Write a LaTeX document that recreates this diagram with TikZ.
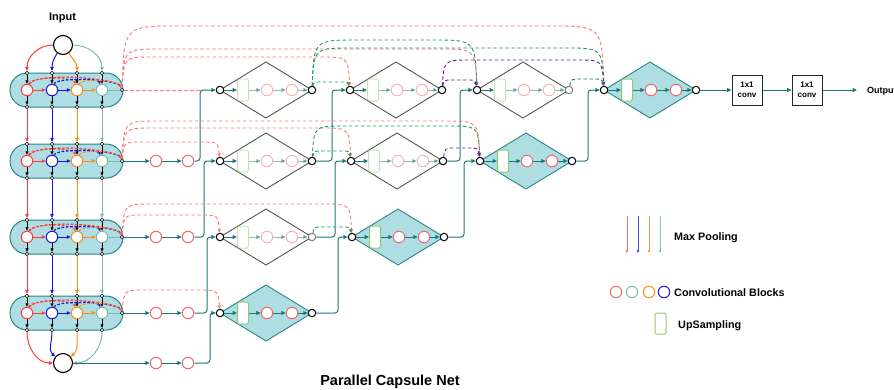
\documentclass[tikz,border=0pt]{standalone}
\usepackage{fontspec}
\setmainfont{Liberation Sans}
\usetikzlibrary{arrows.meta,calc}
\definecolor{tealc}{HTML}{1D7676}
\definecolor{pillfill}{HTML}{AEDDE3}
\definecolor{pillbord}{HTML}{2B8585}
\definecolor{cred}{HTML}{FF3B3B}
\definecolor{cblue}{HTML}{1717DD}
\definecolor{corange}{HTML}{FF8A14}
\definecolor{cteal}{HTML}{7BBAA8}
\definecolor{bred}{HTML}{EF6B6B}
\definecolor{upg}{HTML}{8DCB6F}
\definecolor{dred}{HTML}{FF7474}
\definecolor{dgreen}{HTML}{1F9C5C}
\definecolor{dpurple}{HTML}{6620B0}
\definecolor{dgrey}{HTML}{555555}
\definecolor{lred}{HTML}{FF6A6A}
\definecolor{lblue}{HTML}{4A4AF0}
\definecolor{lorange}{HTML}{FF9A40}
\definecolor{lteal}{HTML}{8CC4B4}
\tikzset{
  flow/.style={draw=tealc, line width=1pt, -{Triangle[length=4.5pt,width=4pt]}},
  conv/.style={circle, draw=#1, line width=1pt, fill=white, minimum size=11.5pt, inner sep=0pt},
  jn/.style={circle, draw=black, line width=1pt, fill=white, minimum size=7.5pt, inner sep=0pt},
  sj/.style={circle, draw=black, line width=0.6pt, fill=white, minimum size=3.6pt, inner sep=0pt},
  upbox/.style={draw=upg, line width=1pt, fill=white, rounded corners=1.5pt, minimum width=11pt, minimum height=22pt, inner sep=0pt},
  skip/.style={draw=#1, dash pattern=on 3.5pt off 2.5pt, line width=0.9pt, -{Stealth[length=4pt,width=3.5pt]}},
  skipn/.style={draw=#1, dash pattern=on 3.5pt off 2.5pt, line width=0.9pt},
  eskip/.style={draw=#1, dash pattern=on 2.5pt off 1.8pt, line width=0.9pt, -{Stealth[length=3.5pt,width=3pt]}},
  mp/.style={draw=#1, line width=1pt, -{Triangle[length=4pt,width=3.5pt]}},
  blk/.style={draw=black, line width=0.8pt, -{Triangle[length=3.5pt,width=3pt]}},
  big/.style={circle, draw=black, line width=1.1pt, fill=white, minimum size=19pt, inner sep=0pt},
  convbox/.style={draw=black!85, line width=1pt, minimum width=30pt, minimum height=30pt, inner sep=0pt, align=center, font=\bfseries\fontsize{8}{10}\selectfont},
  lbl/.style={font=\bfseries\fontsize{10.8}{12}\selectfont, anchor=base west, inner sep=0pt},
}
\newcommand{\encrow}[2]{%
  \path[fill=pillfill, draw=pillbord, line width=1pt, rounded corners=17pt] (10,#2-17) rectangle (123,#2+17);
  \foreach \i/\xx/\cc in {1/27/cred,2/52/cblue,3/77/corange,4/102/cteal}{%
    \node[sj] (r#1t\i) at (\xx,#2-17) {};
    \node[sj] (r#1b\i) at (\xx,#2+17) {};
    \node[conv=\cc] (r#1c\i) at (\xx,#2) {};
  }%
  \node[sj] (r#1E) at (122,#2) {};
  \foreach \i in {1,2,3,4}{%
    \draw[blk] (r#1t\i) -- (r#1c\i);
    \draw[blk] (r#1c\i) -- (r#1b\i);
  }%
  \draw[mp=cred] (r#1c1) -- (r#1c2);
  \draw[mp=cblue] (r#1c2) -- (r#1c3);
  \draw[mp=corange] (r#1c3) -- (r#1c4);
  \draw[cteal, line width=1pt] (r#1c4) -- (r#1E);
  \draw[eskip=cred] (r#1c1) .. controls +(4,-14) and +(-4,-13) .. (r#1c3);
  \draw[eskip=cred] (r#1c1) .. controls +(6,-16) and +(-4,-14) .. (r#1c4);
  \draw[eskip=cred] (r#1c1) .. controls +(8,-18) and +(-4,-12) .. (r#1E);
  \draw[eskip=cblue] (r#1c2) .. controls +(4,-12) and +(-4,-12) .. (r#1c4);
  \draw[eskip=cblue] (r#1c2) .. controls +(5,-14) and +(-4,-10) .. (r#1E);
  \draw[eskip=corange] (r#1c3) .. controls +(4,-12) and +(-4,-10) .. (r#1E);
}
\newcommand{\dblock}[5]{%
  \begin{scope}[shift={(#2,#3)}]
    \ifnum#4=1
      \path[draw=pillbord, fill=pillfill, line width=0.9pt] (0,0) -- (46,-28) -- (92,0) -- (46,28) -- cycle;
      \def\dop{1}%
    \else
      \path[draw=dgrey, line width=0.9pt] (0,0) -- (46,-28) -- (92,0) -- (46,28) -- cycle;
      \def\dop{0.5}%
    \fi
    \node[jn] (#1in) at (0,0) {};
    \node[jn, draw=#5] (#1out) at (92,0) {};
    \node[upbox, opacity=\dop] (#1u) at (23,0) {};
    \node[conv=bred, opacity=\dop] (#1a) at (47,0) {};
    \node[conv=bred, opacity=\dop] (#1b) at (72,0) {};
    \draw[flow] (#1in) -- (#1u);
    \begin{scope}[opacity=\dop]
      \draw[flow] (#1u) -- (#1a);
      \draw[flow] (#1a) -- (#1b);
      \draw[flow] (#1b) -- (#1out);
    \end{scope}
  \end{scope}
}
% skip arc: colour, source, target, x source, x target, peak y, corner size
\newcommand{\sarc}[7]{%
  \draw[skip=#1] (#2) .. controls (#4+2,#6) .. (#4+#7,#6) -- (#5-#7,#6) .. controls (#5-2,#6) .. (#3);
}
\begin{document}
\begin{tikzpicture}[x=1pt,y=-1pt]
\useasboundingbox (0,0) rectangle (894,389);
% ---------- encoder ----------
\node[font=\bfseries\fontsize{11}{13}\selectfont, anchor=base, inner sep=0pt] (inlbl) at (62.5,20) {Input};
\node[big] (inC) at (63,45) {};
\encrow{1}{90}
\encrow{2}{161}
\encrow{3}{237}
\encrow{4}{313}
\node[big] (botC) at (63,363) {};
\draw[mp=cred] (inC) to[out=180,in=90] (r1t1);
\draw[mp=cblue] (inC) to[out=235,in=90] (r1t2);
\draw[mp=corange] (inC) to[out=-55,in=90] (r1t3);
\draw[mp=cteal] (inC) to[out=0,in=90] (r1t4);
\foreach \a/\b in {1/2,2/3,3/4}{%
  \foreach \i/\cc in {1/cred,2/cblue,3/corange,4/cteal}{%
    \draw[mp=\cc] (r\a b\i) -- (r\b t\i);
  }%
}
\draw[mp=cred] (r4b1) to[out=-90,in=180] (botC);
\draw[mp=cblue] (r4b2) to[out=-90,in=140] (botC);
\draw[mp=corange] (r4b3) to[out=-90,in=40] (botC);
\draw[mp=cteal] (r4b4) to[out=-90,in=0] (botC);
% ---------- diamonds ----------
\dblock{A01}{220}{90}{0}{black}
\dblock{A11}{220}{161}{0}{black}
\dblock{A21}{220}{237}{0}{gray}
\dblock{A31}{220}{313}{1}{black}
\dblock{A02}{350}{90}{0}{black}
\dblock{A12}{351}{161}{0}{black}
\dblock{A22}{352}{237}{1}{black}
\dblock{A03}{477}{90}{0}{gray}
\dblock{A13}{480}{161}{1}{black}
\dblock{A04}{604}{90}{1}{black}
% ---------- bypass rows ----------
\foreach \r/\y in {2/161,3/237,4/313,5/363}{%
  \node[conv=bred] (p\r a) at (156,\y) {};
  \node[conv=bred] (p\r b) at (188,\y) {};
  \draw[flow] (p\r a) -- (p\r b);
}
\draw[flow] (r2E) -- (p2a);
\draw[flow] (r3E) -- (p3a);
\draw[flow] (r4E) -- (p4a);
\draw[flow] (botC) -- (p5a);
\draw[flow, rounded corners=3pt] (p2b) -- (200,161) -- (200,90) -- (A01in);
\draw[flow, rounded corners=3pt] (p3b) -- (204,237) -- (204,161) -- (A11in);
\draw[flow, rounded corners=3pt] (p4b) -- (207,313) -- (207,237) -- (A21in);
\draw[flow, rounded corners=3pt] (p5b) -- (210,363) -- (210,313) -- (A31in);
\draw[flow, rounded corners=3pt] (A11out) -- (332,161) -- (332,90) -- (A02in);
\draw[flow, rounded corners=3pt] (A21out) -- (335,237) -- (335,161) -- (A12in);
\draw[flow, rounded corners=3pt] (A31out) -- (338,313) -- (338,237) -- (A22in);
\draw[flow, rounded corners=3pt] (A12out) -- (460,161) -- (460,90) -- (A03in);
\draw[flow, rounded corners=3pt] (A22out) -- (464,237) -- (464,161) -- (A13in);
\draw[flow, rounded corners=3pt] (A13out) -- (588,161) -- (588,90) -- (A04in);
% ---------- output ----------
\node[convbox] (k1) at (747,90) {1x1\\conv};
\node[convbox] (k2) at (807,90) {1x1\\conv};
\coordinate (oend) at (857,90);
\draw[flow] (A04out) -- (k1);
\draw[flow] (k1) -- (k2);
\draw[flow] (k2) -- (oend);
\node[font=\bfseries\fontsize{9}{11}\selectfont, anchor=base west, inner sep=0pt] (outlbl) at (867,93) {Output};
% ---------- skip connections ----------
\coordinate (j1) at (200,90);
\draw[skipn=dred] (r1E) -- (j1);
\sarc{dred}{r1E}{A02in}{122}{350}{57}{30}
\sarc{dred}{r1E}{A03in}{122}{477}{49}{38}
\sarc{dred}{r1E}{A04in}{122}{604}{26}{55}
\sarc{dgreen}{A01out}{A02in}{312}{350}{82}{10}
\sarc{dgreen}{A01out}{A03in}{312}{477}{40}{45}
\sarc{dgreen}{A01out}{A04in}{312}{604}{48}{40}
\sarc{dpurple}{A02out}{A03in}{442}{477}{80}{10}
\sarc{dpurple}{A02out}{A04in}{442}{604}{60}{28}
\sarc{tealc}{A03out}{A04in}{569}{604}{79}{12}
\sarc{dred}{r2E}{A11in}{122}{220}{142}{18}
\sarc{dred}{r2E}{A12in}{122}{351}{128}{30}
\sarc{dred}{r2E}{A13in}{122}{480}{121}{36}
\sarc{dgreen}{A11out}{A12in}{312}{351}{151}{10}
\sarc{dgreen}{A11out}{A13in}{312}{480}{126}{32}
\sarc{dpurple}{A12out}{A13in}{443}{480}{148}{12}
\sarc{dred}{r3E}{A21in}{122}{220}{215}{20}
\sarc{dred}{r3E}{A22in}{122}{352}{204}{30}
\sarc{dgreen}{A21out}{A22in}{312}{352}{227}{10}
\sarc{dred}{r4E}{A31in}{122}{220}{290}{22}
% ---------- legend ----------
\foreach \i/\xx/\cc in {1/627/lred,2/638/lblue,3/649/lorange,4/660/lteal}{%
  \coordinate (lgs\i) at (\xx,216);
  \coordinate (lge\i) at (\xx,253);
  \draw[draw=\cc, line width=0.8pt, -{Triangle[length=3pt,width=2.6pt]}] (lgs\i) -- (lge\i);
}
\node[lbl] (lblmp) at (674,240) {Max Pooling};
\node[conv=bred] (lc1) at (616,292) {};
\node[conv=cteal] (lc2) at (632,292) {};
\node[conv=corange] (lc3) at (649,292) {};
\node[conv=cblue] (lc4) at (664,292) {};
\node[lbl] (lblcb) at (674,296) {Convolutional Blocks};
\node[upbox, minimum height=21pt] (lup) at (660.5,323.5) {};
\node[lbl] (lblup) at (678,328) {UpSampling};
\node[font=\bfseries\fontsize{14.5}{17}\selectfont, anchor=base, inner sep=0pt] (title) at (390,385) {Parallel Capsule Net};
\end{tikzpicture}
\end{document}
